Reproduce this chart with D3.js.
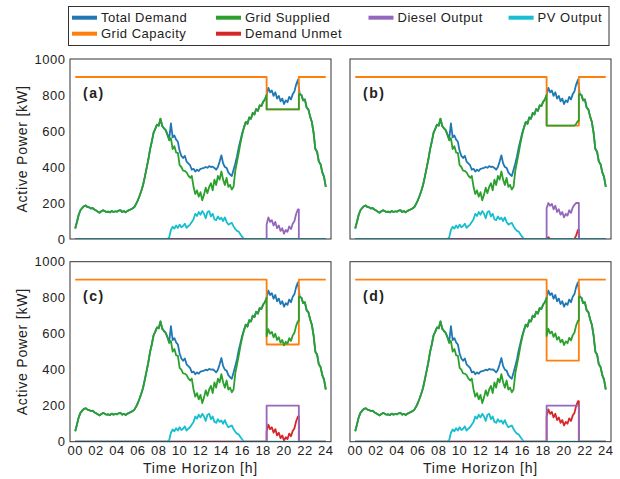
<!DOCTYPE html>
<html><head><meta charset="utf-8">
<script src="https://cdn.jsdelivr.net/npm/d3@7"></script>
<style>
body{margin:0;background:#fff}
svg{display:block}
text{font-family:"Liberation Sans",Arial,sans-serif;fill:#222}
</style>
</head><body><svg id="chart" width="620" height="479"></svg>
<script>
// ---------------- DATA ----------------
const stepMinutes = 10;                 // sampling step of the profiles
const demand = [58,95,135,160,172,182,186,178,176,170,172,164,158,152,146,154,160,155,150,152,148,156,150,154,152,158,160,150,155,148,
 156,160,165,170,178,195,215,240,268,300,345,392,440,498,540,590,612,635,630,668,628,615,605,580,555,642,565,575,552,540,
 490,462,450,462,430,420,410,385,390,375,385,378,390,392,395,400,396,405,400,402,395,385,400,430,465,420,400,395,370,358,
 350,385,420,460,510,550,590,620,650,640,675,668,700,692,722,712,742,738,762,775,800,840,815,825,795,815,780,795,765,780,
 750,770,760,790,775,805,820,860,885,805,800,770,775,730,720,680,650,590,500,485,430,415,370,345,290];
const daytimeStartIndex = 53;           // 08:50
const pvOutput = [0,8,50,68,58,75,62,80,65,72,85,62,72,80,95,110,140,128,150,135,155,140,115,150,155,125,140,110,105,125,
 110,118,100,120,95,80,85,90,70,55,45,40,25,12,0];
const gridDaytime = [580,548,560,500,515,480,478,410,400,380,378,370,352,340,350,290,250,270,235,260,215,245,285,255,290,310,270,330,300,350,
 330,375,330,300,340,290,300,275,290,380,430,480,535,580,620];
const windowStartIndex = 110;           // 18:20
const windowEndHour = 21.42;
const capacityNormal = 900;
const panelLabels = ["(a)","(b)","(c)","(d)"];
const capacityReduced = [720,630,540,450];
const gridWindow = [
 [720,720,720,720,720,720,720,720,720,720,720,720,720,720,720,720,720,720,720],
 [630,630,630,630,630,630,630,630,630,630,630,630,630,630,630,630,630,640,655],
 [585,625,600,610,580,600,565,580,550,565,535,555,545,575,560,590,605,645,670],
 [587,627,602,612,582,602,567,582,552,567,537,557,547,577,562,592,607,647,672]];
const dieselWindow = [
 [80,120,95,105,75,95,60,75,45,60,30,50,40,70,55,85,100,140,165],
 [170,200,185,195,165,185,150,165,135,150,120,140,130,160,145,175,190,200,200],
 [200,200,200,200,200,200,200,200,200,200,200,200,200,200,200,200,200,200,200],
 [200,200,200,200,200,200,200,200,200,200,200,200,200,200,200,200,200,200,200]];
const unmetWindow = [
 [0,0,0,0,0,0,0,0,0,0,0,0,0,0,0,0,0,0,0],
 [0,10,0,0,0,0,0,0,0,0,0,0,0,0,0,0,0,20,50],
 [55,95,70,80,50,70,35,50,20,35,5,25,15,45,30,60,75,115,140],
 [140,180,155,165,135,155,120,135,105,120,90,110,100,130,115,145,160,200,225]];
const xTicks = [0,2,4,6,8,10,12,14,16,18,20,22,24];
const yTicks = [0,200,400,600,800,1000];
const legendItems = [
 {name:"Total Demand", color:"#1f77b4", col:0,row:0},
 {name:"Grid Capacity", color:"#ff7f0e", col:0,row:1},
 {name:"Grid Supplied", color:"#2ca02c", col:1,row:0},
 {name:"Demand Unmet", color:"#d62728", col:1,row:1},
 {name:"Diesel Output", color:"#9467bd", col:2,row:0},
 {name:"PV Output", color:"#17becf", col:3,row:0}];
const colors = {demand:"#1f77b4",cap:"#ff7f0e",grid:"#2ca02c",unmet:"#d62728",diesel:"#9467bd",pv:"#17becf"};

// ---------------- LAYOUT ----------------
const svg = d3.select("#chart");
const pw = 261, ph = 180;
const panelPos = [{x:70,y:59},{x:350,y:59},{x:70,y:261.7},{x:350,y:261.7}];
const hourOf = i => i*stepMinutes/60;
const tStart = hourOf(windowStartIndex);
const nW = gridWindow[0].length;

function windowSeries(baseAt, win, fromBaseStart, toBaseEnd){
  const pts = [];
  for (let i=0;i<windowStartIndex;i++) pts.push([hourOf(i), baseAt(i)]);
  pts.push([tStart, fromBaseStart]);
  win.forEach((v,k)=>pts.push([hourOf(windowStartIndex+k), v]));
  pts.push([windowEndHour, win[win.length-1]]);
  pts.push([windowEndHour, toBaseEnd]);
  for (let i=windowStartIndex+nW;i<demand.length;i++) pts.push([hourOf(i), baseAt(i)]);
  return pts;
}
const gridBase = i => (i>=daytimeStartIndex && i<daytimeStartIndex+gridDaytime.length) ? gridDaytime[i-daytimeStartIndex] : demand[i];

panelPos.forEach((p,pi)=>{
  const x = d3.scaleLinear().domain([-0.5,24.5]).range([p.x,p.x+pw]);
  const y = d3.scaleLinear().domain([0,1000]).range([p.y+ph,p.y]);
  const line = d3.line().x(d=>x(d[0])).y(d=>y(d[1]));
  const g = svg.append("g");
  const clip = "clip"+pi;
  svg.append("clipPath").attr("id",clip).append("rect").attr("x",p.x).attr("y",p.y-2).attr("width",pw).attr("height",ph+2);
  const lg = g.append("g").attr("clip-path",`url(#${clip})`);

  const demandPts = demand.map((v,i)=>[hourOf(i),v]);
  const capPts = [[0,capacityNormal],[tStart,capacityNormal],[tStart,capacityReduced[pi]],[windowEndHour,capacityReduced[pi]],[windowEndHour,capacityNormal],[24,capacityNormal]];
  const gridPts = windowSeries(gridBase, gridWindow[pi], demand[windowStartIndex], demand[windowStartIndex+nW]);
  const zero = () => 0;
  const unmetPts = windowSeries(zero, unmetWindow[pi], 0, 0);
  const dieselPts = windowSeries(zero, dieselWindow[pi], 0, 0);
  const pvPts = [[0,0]].concat(pvOutput.map((v,k)=>[hourOf(daytimeStartIndex+k),v])).concat([[24,0]]);

  const series = [[demandPts,colors.demand],[capPts,colors.cap],[gridPts,colors.grid],[unmetPts,colors.unmet],[dieselPts,colors.diesel],[pvPts,colors.pv]];
  series.forEach(([pts,c])=>{
    lg.append("path").attr("d",line(pts)).attr("fill","none").attr("stroke",c).attr("stroke-width",1.8).attr("stroke-linejoin","round");
  });

  g.append("rect").attr("x",p.x).attr("y",p.y).attr("width",pw).attr("height",ph)
    .attr("fill","none").attr("stroke","#333").attr("stroke-width",1);

  g.append("text").attr("x",p.x+13).attr("y",p.y+39).text(panelLabels[pi])
    .style("font-weight","bold").style("font-size","14px").style("letter-spacing","1.5px").style("fill","#222");

  if (pi%2===0){
    yTicks.forEach(t=>{
      g.append("text").attr("x",p.x-4.5).attr("y",y(t)).attr("dy","0.35em").attr("text-anchor","end")
        .style("font-size","13px").style("letter-spacing","0.5px").text(t);
    });
    g.append("text").attr("transform",`translate(27,${p.y+ph/2}) rotate(-90)`).attr("text-anchor","middle")
      .style("font-size","14px").style("letter-spacing","0.8px").text("Active Power [kW]");
  }
  if (pi>=2){
    xTicks.forEach(t=>{
      g.append("text").attr("x",x(t)).attr("y",p.y+ph+13.5).attr("text-anchor","middle")
        .style("font-size","13px").style("letter-spacing","0.5px").text(String(t).padStart(2,"0"));
    });
    g.append("text").attr("x",p.x+pw/2).attr("y",472.5).attr("text-anchor","middle")
      .style("font-size","14px").style("letter-spacing","0.8px").text("Time Horizon [h]");
  }
});

// ---------------- LEGEND ----------------
const lgBox = svg.append("g");
lgBox.append("rect").attr("x",68.5).attr("y",6.5).attr("width",540.5).attr("height",39)
  .attr("fill","#fff").attr("stroke","#333").attr("stroke-width",1);
const colX = [72,216,368.5,508.6], rowY = [17.7,33.7];
legendItems.forEach(it=>{
  const x0 = colX[it.col], y0 = rowY[it.row];
  lgBox.append("line").attr("x1",x0).attr("x2",x0+25).attr("y1",y0).attr("y2",y0)
    .attr("stroke",it.color).attr("stroke-width",4);
  lgBox.append("text").attr("x",x0+29).attr("y",y0).attr("dy","0.36em")
    .style("font-size","13px").style("letter-spacing","0.5px").text(it.name);
});
</script>
</body></html>
